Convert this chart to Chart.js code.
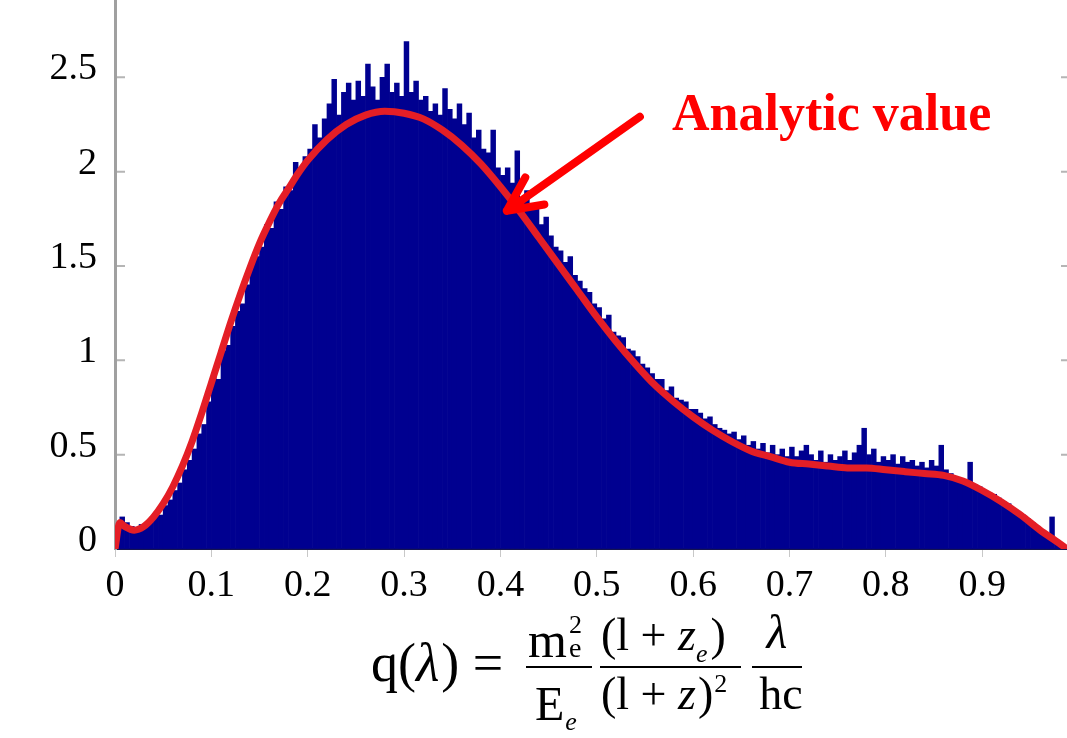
<!DOCTYPE html>
<html lang="en">
<head>
<meta charset="UTF-8">
<title>q(λ) histogram with analytic value</title>
<script src="https://cdn.jsdelivr.net/npm/chart.js@4.4.4/dist/chart.umd.min.js"></script>
<style>
  html, body { margin: 0; padding: 0; background: #fff; }
  #wrap { width: 1067px; height: 738px; position: relative; }
</style>
</head>
<body>
<div id="wrap"><canvas id="histChart"></canvas></div>
<script>
  // histogram: bins of width 0.005 starting at q = 0
  const binWidth = 0.005;
  const histValues = [
    0.12, 0.17, 0.14, 0.12, 0.11, 0.13, 0.12, 0.15, 0.19, 0.18,
    0.23, 0.26, 0.31, 0.35, 0.42, 0.47, 0.53, 0.61, 0.66, 0.78,
    0.92, 0.90, 1.05, 1.08, 1.18, 1.26, 1.30, 1.40, 1.52, 1.55,
    1.60, 1.72, 1.70, 1.84, 1.80, 1.92, 1.90, 2.05, 2.02, 2.08,
    2.12, 2.25, 2.18, 2.28, 2.36, 2.49, 2.30, 2.42, 2.47, 2.38,
    2.48, 2.40, 2.57, 2.45, 2.38, 2.50, 2.57, 2.42, 2.47, 2.40,
    2.69, 2.42, 2.48, 2.38, 2.40, 2.32, 2.36, 2.30, 2.44, 2.33,
    2.28, 2.36, 2.25, 2.31, 2.18, 2.22, 2.12, 2.10, 2.22, 2.02,
    1.98, 2.02, 1.94, 2.11, 1.86, 1.90, 1.80, 1.83, 1.72, 1.76,
    1.66, 1.60, 1.58, 1.52, 1.55, 1.45, 1.42, 1.38, 1.36, 1.30,
    1.28, 1.22, 1.24, 1.15, 1.13, 1.12, 1.06, 1.05, 1.02, 0.98,
    0.96, 0.93, 0.90, 0.90, 0.84, 0.86, 0.80, 0.79, 0.78, 0.74,
    0.74, 0.72, 0.69, 0.70, 0.66, 0.64, 0.63, 0.61, 0.62, 0.58,
    0.60, 0.55, 0.57, 0.53, 0.56, 0.51, 0.55, 0.50, 0.53, 0.49,
    0.54, 0.49, 0.52, 0.55, 0.50, 0.47, 0.52, 0.46, 0.50, 0.47,
    0.49, 0.52, 0.47, 0.51, 0.55, 0.64, 0.50, 0.53, 0.46, 0.49,
    0.47, 0.50, 0.45, 0.49, 0.46, 0.47, 0.44, 0.46, 0.43, 0.47,
    0.44, 0.55, 0.42, 0.40, 0.38, 0.37, 0.36, 0.46, 0.34, 0.33,
    0.31, 0.30, 0.29, 0.27, 0.25, 0.24, 0.21, 0.20, 0.18, 0.16,
    0.14, 0.12, 0.10, 0.08, 0.17, 0.04, 0.02, 0.01
  ];

  // analytic curve
  const curveX = [0, 0.005, 0.01, 0.02, 0.03, 0.04, 0.05, 0.06, 0.07, 0.08, 0.09,
    0.1, 0.11, 0.12, 0.13, 0.14, 0.15, 0.16, 0.17, 0.18, 0.19, 0.2, 0.22, 0.24,
    0.26, 0.28, 0.3, 0.32, 0.34, 0.36, 0.38, 0.4, 0.42, 0.44, 0.46, 0.48, 0.5,
    0.52, 0.54, 0.56, 0.58, 0.6, 0.62, 0.64, 0.66, 0.68, 0.7, 0.72, 0.74, 0.76,
    0.78, 0.8, 0.82, 0.84, 0.86, 0.88, 0.9, 0.92, 0.94, 0.96, 0.98, 0.988];
  const curveY = [0.0, 0.14, 0.12, 0.10, 0.12, 0.17, 0.24, 0.33, 0.44, 0.57, 0.72,
    0.88, 1.04, 1.20, 1.35, 1.49, 1.62, 1.73, 1.83, 1.91, 1.99, 2.06, 2.17, 2.25,
    2.30, 2.32, 2.31, 2.28, 2.22, 2.14, 2.04, 1.92, 1.79, 1.65, 1.51, 1.37, 1.23,
    1.10, 0.98, 0.87, 0.78, 0.70, 0.63, 0.57, 0.52, 0.49, 0.46, 0.45, 0.44, 0.43,
    0.43, 0.42, 0.41, 0.40, 0.39, 0.36, 0.31, 0.25, 0.18, 0.10, 0.03, 0.0];

  const xTicks = [0, 0.1, 0.2, 0.3, 0.4, 0.5, 0.6, 0.7, 0.8, 0.9];
  const yTicks = [0, 0.5, 1, 1.5, 2, 2.5];
  const annotationText = 'Analytic value';
  const arrowPoint = [0.4067, 1.793];

  const serif = "'Liberation Serif', 'Times New Roman', serif";
  const navy = '#000090';
  const curveRed = '#e41e26';

  const histData = histValues.map((v, i) => ({ x: (i + 0.5) * binWidth, y: v }));
  const curveData = curveX.map((x, i) => ({ x: x, y: curveY[i] }));

  // draws a run of text pieces left to right
  function drawRun(ctx, x, y, parts) {
    parts.forEach(p => {
      ctx.font = (p.italic ? 'italic ' : '') + p.size + 'px ' + serif;
      ctx.fillText(p.t, x, y + (p.dy || 0));
      x += ctx.measureText(p.t).width + (p.gap || 0);
    });
    return x;
  }

  const decor = {
    id: 'decor',
    afterDraw(chart) {
      const ctx = chart.ctx;
      const xs = chart.scales.x, ys = chart.scales.y;
      const area = chart.chartArea;
      ctx.save();

      // small inner tick marks on left and right edges
      ctx.strokeStyle = '#b5b5b5';
      ctx.lineWidth = 2;
      yTicks.forEach(v => {
        const py = ys.getPixelForValue(v);
        if (v === 0) return;
        ctx.beginPath();
        ctx.moveTo(area.left + 2, py); ctx.lineTo(area.left + 10, py);
        ctx.moveTo(area.right - 6, py); ctx.lineTo(area.right, py);
        ctx.stroke();
      });

      // arrow pointing at the analytic curve
      const tx = xs.getPixelForValue(arrowPoint[0]);
      const ty = ys.getPixelForValue(arrowPoint[1]);
      const ang = Math.atan2(-94, 133);
      ctx.strokeStyle = '#ff0000';
      ctx.lineWidth = 8;
      ctx.lineCap = 'round';
      ctx.beginPath();
      ctx.moveTo(tx, ty);
      ctx.lineTo(tx + 133, ty - 94);
      [-0.45, 0.45].forEach(d => {
        ctx.moveTo(tx, ty);
        ctx.lineTo(tx + 38 * Math.cos(ang + d), ty + 38 * Math.sin(ang + d));
      });
      ctx.stroke();

      ctx.fillStyle = '#ff0000';
      ctx.font = 'bold 52px ' + serif;
      ctx.textBaseline = 'alphabetic';
      ctx.textAlign = 'left';
      ctx.fillText(annotationText, 672, 130);

      // x-axis title: the formula for q(lambda)
      ctx.fillStyle = '#000';
      ctx.strokeStyle = '#000';
      ctx.lineWidth = 2;
      ctx.lineCap = 'butt';
      drawRun(ctx, 371, 681, [
        { t: 'q(', size: 54 },
        { t: 'λ', size: 54, italic: true, gap: 2 },
        { t: ') =', size: 54 }
      ]);
      // m_e^2 / E_e
      ctx.beginPath();
      ctx.moveTo(526, 667); ctx.lineTo(592, 667);
      ctx.moveTo(600, 667); ctx.lineTo(741, 667);
      ctx.moveTo(752, 667); ctx.lineTo(802, 667);
      ctx.stroke();
      let mx = drawRun(ctx, 528, 657, [{ t: 'm', size: 50, gap: 2 }]);
      drawRun(ctx, mx, 633, [{ t: '2', size: 26 }]);
      drawRun(ctx, mx, 657, [{ t: 'e', size: 28 }]);
      drawRun(ctx, 535, 720, [
        { t: 'E', size: 48, gap: 1 },
        { t: 'e', size: 26, italic: true, dy: 10 }
      ]);
      // (1+z_e) / (1+z)^2
      drawRun(ctx, 601, 650, [
        { t: '(l + ', size: 46 },
        { t: 'z', size: 46, italic: true },
        { t: 'e', size: 26, italic: true, dy: 12, gap: 3 },
        { t: ')', size: 46 }
      ]);
      drawRun(ctx, 601, 709, [
        { t: '(l + ', size: 46 },
        { t: 'z', size: 46, italic: true, gap: 2 },
        { t: ')', size: 46, gap: 1 },
        { t: '2', size: 26, dy: -17 }
      ]);
      // lambda / hc
      ctx.textAlign = 'center';
      ctx.font = 'italic 48px ' + serif;
      ctx.fillText('λ', 777, 648);
      ctx.font = '46px ' + serif;
      ctx.fillText('hc', 781, 709);
      ctx.restore();
    }
  };

  new Chart(document.getElementById('histChart'), {
    data: {
      datasets: [
        {
          type: 'line',
          label: 'Analytic value',
          data: curveData,
          borderColor: curveRed,
          borderWidth: 7,
          pointRadius: 0,
          cubicInterpolationMode: 'monotone',
          order: 0
        },
        {
          type: 'bar',
          label: 'Histogram',
          data: histData,
          backgroundColor: navy,
          borderWidth: 0,
          barPercentage: 1,
          categoryPercentage: 1,
          order: 1
        }
      ]
    },
    options: {
      responsive: true,
      maintainAspectRatio: false,
      animation: false,
      layout: { padding: 0 },
      plugins: { legend: { display: false }, tooltip: { enabled: false } },
      scales: {
        x: {
          type: 'linear',
          offset: false,
          min: 0,
          max: 0.988,
          afterBuildTicks: s => { s.ticks = xTicks.map(v => ({ value: v })); },
          afterFit: s => { s.height = 189; s.paddingLeft = 0; s.paddingRight = 0; },
          ticks: {
            color: '#000',
            font: { family: serif, size: 38 },
            padding: 6,
            maxRotation: 0,
            autoSkip: false,
            callback: v => String(Number(v.toFixed(1)))
          },
          grid: { offset: false, drawOnChartArea: false, drawTicks: true, tickLength: 8, color: '#c8c8c8' },
          border: { display: true, color: '#141450', width: 2 }
        },
        y: {
          min: 0,
          max: 2.91,
          z: 1,
          afterBuildTicks: s => { s.ticks = yTicks.map(v => ({ value: v })); },
          afterFit: s => { s.width = 115; s.paddingTop = 0; s.paddingBottom = 0; },
          ticks: {
            color: '#000',
            font: { family: serif, size: 38, lineHeight: '16px' },
            padding: 18,
            callback: v => [String(v), '']
          },
          grid: { drawOnChartArea: false, drawTicks: false },
          border: { display: true, color: '#a0a0a0', width: 3 }
        }
      }
    },
    plugins: [decor]
  });
</script>
</body>
</html>
